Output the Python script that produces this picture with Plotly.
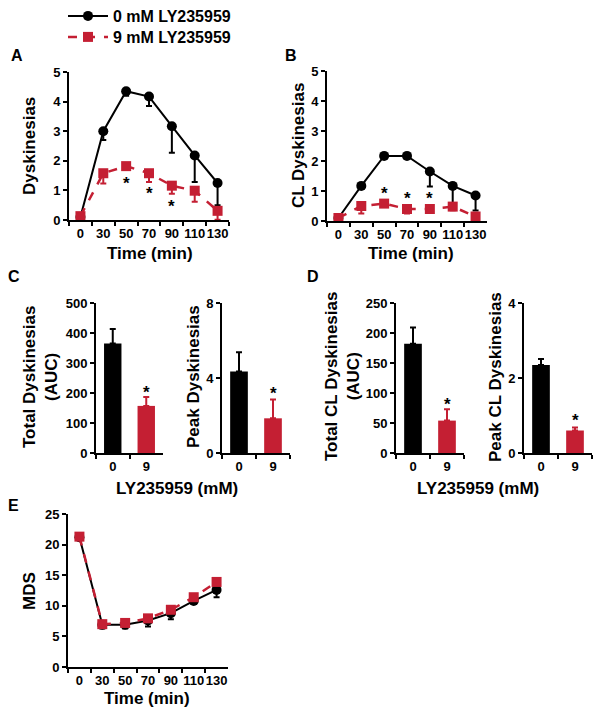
import plotly.graph_objects as go

# ---------------- data ----------------
times = ["0", "30", "50", "70", "90", "110", "130"]

# Panel A: Dyskinesias
a_ctrl = [0.1, 3.0, 4.35, 4.17, 3.17, 2.18, 1.25]
a_ctrl_err = [0.05, 0.3, 0.15, 0.32, 0.9, 0.9, 0.75]
a_ly = [0.13, 1.58, 1.82, 1.58, 1.16, 0.99, 0.31]
a_ly_err = [0.05, 0.35, 0.1, 0.3, 0.27, 0.37, 0.3]
a_star_t = ["50", "70", "90"]
a_star_y = [1.35, 0.99, 0.57]

# Panel B: CL Dyskinesias
b_ctrl = [0.1, 1.17, 2.17, 2.17, 1.65, 1.17, 0.85]
b_ctrl_err = [0.05, 0.1, 0.1, 0.1, 0.5, 0.7, 0.5]
b_ly = [0.1, 0.5, 0.58, 0.4, 0.4, 0.48, 0.15]
b_ly_err = [0.05, 0.25, 0.1, 0.15, 0.12, 0.12, 0.15]
b_star_t = ["50", "70", "90"]
b_star_y = [1.03, 0.84, 0.84]

# Panels C / D: bar charts
doses = ["0", "9"]
c_total = [365, 157]
c_total_err = [48, 30]
c_total_star = 213
c_peak = [4.35, 1.85]
c_peak_err = [1.02, 1.0]
c_peak_star = 3.33
d_total = [182, 54]
d_total_err = [27, 19]
d_total_star = 86
d_peak = [2.35, 0.6]
d_peak_err = [0.16, 0.08]
d_peak_star = 0.95

# Panel E: MDS
e_ctrl = [21.2, 6.9, 6.9, 7.6, 8.8, 10.8, 12.6]
e_ctrl_err = [0.3, 0.6, 0.6, 1.0, 1.0, 0.5, 1.2]
e_ly = [21.3, 7.0, 7.2, 7.95, 9.35, 11.4, 13.9]
e_ly_err = [0.3, 0.4, 0.4, 0.4, 0.4, 0.4, 0.4]

series_names = ["0 mM LY235959", "9 mM LY235959"]

# ---------------- style ----------------
W, H = 604, 717
RED = "#C41F33"
BLACK = "#000000"
FONT = "Liberation Sans"


def px_x(a, b):
    return [a / W, b / W]


def px_y(top, bottom):
    return [1 - bottom / H, 1 - top / H]


tickfont = dict(family=FONT, size=13, color="black", weight="bold")


def xaxis(domain, anchor, n):
    return dict(domain=domain, anchor=anchor, type="category", range=[-0.5, n - 0.5],
                showline=True, linecolor="black", linewidth=2, ticks="outside",
                ticklen=4, tickwidth=2, tickcolor="black", tickson="boundaries",
                tickangle=0, tickfont=tickfont, showgrid=False, zeroline=False,
                fixedrange=True)


def yaxis(domain, anchor, top, dtick):
    return dict(domain=domain, anchor=anchor, range=[0, top], dtick=dtick,
                showline=True, linecolor="black", linewidth=2, ticks="outside",
                ticklen=4, tickwidth=2, tickcolor="black", tickfont=tickfont,
                showgrid=False, zeroline=False, fixedrange=True)


fig = go.Figure()


def line_pair(xa, ya, ctrl, ctrl_err, ly, ly_err, legend):
    fig.add_trace(go.Scatter(
        x=times, y=ctrl, xaxis=xa, yaxis=ya, mode="lines+markers",
        name=series_names[0], showlegend=legend, legend="legend",
        line=dict(color=BLACK, width=2),
        marker=dict(symbol="circle", size=10, color=BLACK),
        error_y=dict(type="data", symmetric=False, array=[0] * len(ctrl),
                     arrayminus=ctrl_err, color=BLACK, thickness=2, width=3)))
    fig.add_trace(go.Scatter(
        x=times, y=ly, xaxis=xa, yaxis=ya, mode="lines+markers",
        name=series_names[1], showlegend=legend, legend="legend2",
        line=dict(color=RED, width=2.5, dash="dash"),
        marker=dict(symbol="square", size=10, color=RED),
        error_y=dict(type="data", symmetric=False, array=[0] * len(ly),
                     arrayminus=ly_err, color=RED, thickness=2, width=3)))


def bar_pair(xa, ya, vals, errs):
    for i, col in enumerate([BLACK, RED]):
        fig.add_trace(go.Bar(
            x=[doses[i]], y=[vals[i]], xaxis=xa, yaxis=ya, showlegend=False, width=0.52,
            marker=dict(color=col, line=dict(width=0)),
            error_y=dict(type="data", symmetric=False, array=[errs[i]], arrayminus=[0],
                         color=col, thickness=2, width=3)))


line_pair("x", "y", a_ctrl, a_ctrl_err, a_ly, a_ly_err, True)
line_pair("x2", "y2", b_ctrl, b_ctrl_err, b_ly, b_ly_err, False)
bar_pair("x3", "y3", c_total, c_total_err)
bar_pair("x4", "y4", c_peak, c_peak_err)
bar_pair("x5", "y5", d_total, d_total_err)
bar_pair("x6", "y6", d_peak, d_peak_err)
line_pair("x7", "y7", e_ctrl, e_ctrl_err, e_ly, e_ly_err, False)

annotations = []


def star(xref, yref, x, y):
    annotations.append(dict(xref=xref, yref=yref, x=x, y=y, text="*", showarrow=False,
                            font=dict(family=FONT, size=17, color="black", weight="bold"),
                            yanchor="middle", yshift=-3))


for t, v in zip(a_star_t, a_star_y):
    star("x", "y", times.index(t), v)
for t, v in zip(b_star_t, b_star_y):
    star("x2", "y2", times.index(t), v)
star("x3", "y3", 1, c_total_star)
star("x4", "y4", 1, c_peak_star)
star("x5", "y5", 1, d_total_star)
star("x6", "y6", 1, d_peak_star)


def label(text, x, y, size=17, angle=0):
    annotations.append(dict(xref="paper", yref="paper", x=x / W, y=1 - y / H, text=text,
                            showarrow=False, textangle=angle, xanchor="center",
                            yanchor="middle",
                            font=dict(family=FONT, size=size, color="black", weight="bold")))


# panel letters
label("A", 17, 55, 16)
label("B", 291, 55, 16)
label("C", 14, 277, 16)
label("D", 313, 277, 16)
label("E", 13, 506, 16)

# axis titles
label("Dyskinesias", 30, 146, angle=-90)
label("Time (min)", 150, 254)
label("CL Dyskinesias", 299, 146, angle=-90)
label("Time (min)", 411, 254)
label("Total Dyskinesias<br>(AUC)", 40, 377, angle=-90)
label("Peak Dyskinesias", 193, 377, angle=-90)
label("LY235959 (mM)", 177, 488)
label("Total CL Dyskinesias<br>(AUC)", 342, 377, angle=-90)
label("Peak CL Dyskinesias", 495, 377, angle=-90)
label("LY235959 (mM)", 478, 488)
label("MDS", 29, 591, angle=-90)
label("Time (min)", 147, 698)

legend_style = dict(xanchor="left", yanchor="middle", orientation="v",
                    bgcolor="rgba(0,0,0,0)", borderwidth=0,
                    font=dict(family=FONT, size=16, color="black", weight="bold"),
                    itemwidth=40, tracegroupgap=0)

fig.update_layout(
    width=W, height=H, margin=dict(l=0, r=0, t=0, b=0, autoexpand=False),
    paper_bgcolor="white", plot_bgcolor="white",
    font=dict(family=FONT, color="black"),
    barmode="overlay",
    xaxis=xaxis(px_x(69, 229), "y", 7),
    yaxis=yaxis(px_y(72, 220), "x", 5, 1),
    xaxis2=xaxis(px_x(327, 487), "y2", 7),
    yaxis2=yaxis(px_y(71, 221), "x2", 5, 1),
    xaxis3=xaxis(px_x(96, 163), "y3", 2),
    yaxis3=yaxis(px_y(303, 453), "x3", 500, 100),
    xaxis4=xaxis(px_x(222, 290), "y4", 2),
    yaxis4=yaxis(px_y(303, 453), "x4", 8, 4),
    xaxis5=xaxis(px_x(396, 464), "y5", 2),
    yaxis5=yaxis(px_y(303, 453), "x5", 250, 50),
    xaxis6=xaxis(px_x(524, 592), "y6", 2),
    yaxis6=yaxis(px_y(303, 453), "x6", 4, 2),
    xaxis7=xaxis(px_x(68, 228), "y7", 7),
    yaxis7=yaxis(px_y(514, 667), "x7", 25, 5),
    annotations=annotations,
    legend=dict(x=63 / W, y=1 - 16 / H, **legend_style),
    legend2=dict(x=63 / W, y=1 - 37 / H, **legend_style),
)

fig.write_html("out.html", config={"displayModeBar": False},
               post_script="document.body.style.margin='0';")
